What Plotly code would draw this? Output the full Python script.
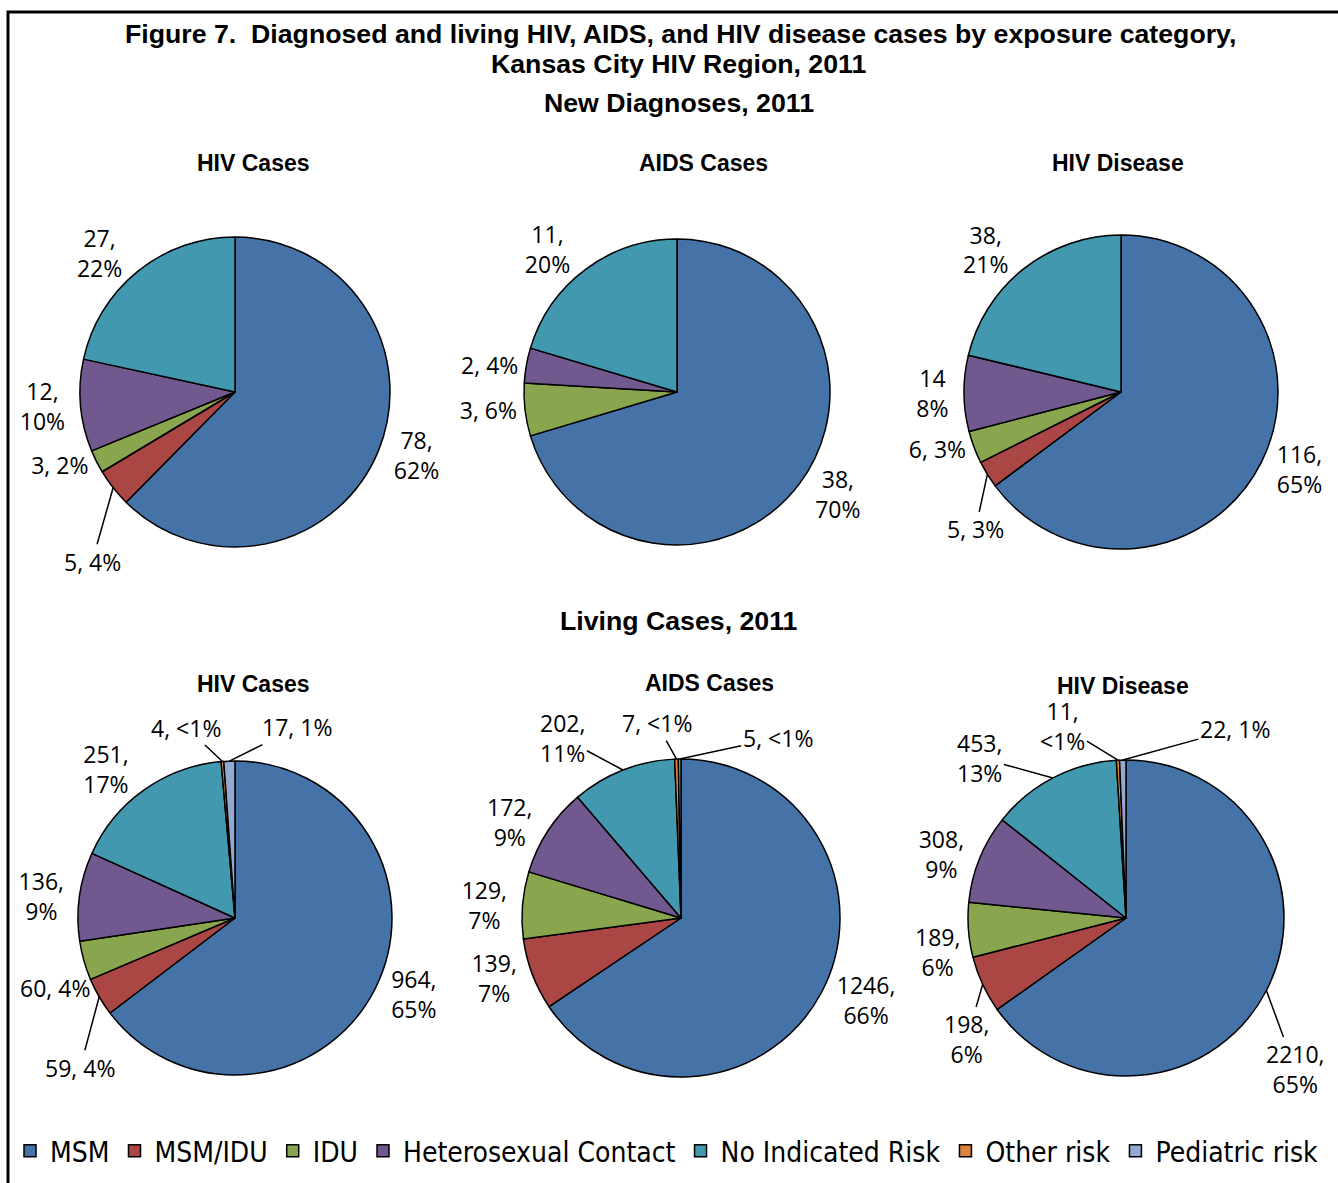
import math
import plotly.graph_objects as go

categories = ["MSM", "MSM/IDU", "IDU", "Heterosexual Contact", "No Indicated Risk",
              "Other risk", "Pediatric risk"]
colors = ["#4572A7", "#AA4643", "#89A54E", "#71588F", "#4198AF", "#DB843D", "#93A9CF"]

# New diagnoses, 2011
new_hiv = [78, 5, 3, 12, 27, 0, 0]
new_aids = [38, 0, 3, 2, 11, 0, 0]
new_disease = [116, 5, 6, 14, 38, 0, 0]
# Living cases, 2011
liv_hiv = [964, 59, 60, 136, 251, 4, 17]
liv_aids = [1246, 139, 129, 172, 202, 7, 5]
liv_disease = [2210, 198, 189, 308, 453, 11, 22]

# Data label texts as printed on the chart
txt_new_hiv = ["78,<br>62%", "5, 4%", "3, 2%", "12,<br>10%", "27,<br>22%", "", ""]
txt_new_aids = ["38,<br>70%", "", "3, 6%", "2, 4%", "11,<br>20%", "", ""]
txt_new_disease = ["116,<br>65%", "5, 3%", "6, 3%", "14<br>8%", "38,<br>21%", "", ""]
txt_liv_hiv = ["964,<br>65%", "59, 4%", "60, 4%", "136,<br>9%", "251,<br>17%", "4, <1%", "17, 1%"]
txt_liv_aids = ["1246,<br>66%", "139,<br>7%", "129,<br>7%", "172,<br>9%", "202,<br>11%", "7, <1%", "5, <1%"]
txt_liv_disease = ["2210,<br>65%", "198,<br>6%", "189,<br>6%", "308,<br>9%", "453,<br>13%", "11,<br><1%", "22, 1%"]

panel_titles = ["HIV Cases", "AIDS Cases", "HIV Disease"]

W, H = 1338, 1183
label_font = dict(family="Open Sans, Noto Sans, sans-serif", size=23, color="black")

# (values, texts, pie centre/radius in px,
#  call-out labels: slice index -> (label offset x px, offset y px, draw leader line))
panels = [
    (new_hiv, txt_new_hiv, (235, 392, 155), {1: (-21, 74, True)}),
    (new_aids, txt_new_aids, (677, 392, 153), {}),
    (new_disease, txt_new_disease, (1121, 392, 157), {1: (-12, 55, True)}),
    (liv_hiv, txt_liv_hiv, (235, 918, 157),
     {1: (-19, 71, True), 2: (-29, 27, False), 5: (-36, -34, True), 6: (68, -34, True)}),
    (liv_aids, txt_liv_aids, (681, 918, 159),
     {4: (-60, -32, True), 5: (-20, -36, True), 6: (98, -21, True)}),
    (liv_disease, txt_liv_disease, (1126, 918, 158),
     {0: (29, 79, True), 1: (-16, 55, True), 2: (-31, 22, False),
      4: (-73, -20, True), 5: (-55, -34, True), 6: (112, -31, True)}),
]

fig = go.Figure()
callouts = []
for vals, txts, (cx, cy, r), offs in panels:
    keep = [i for i, v in enumerate(vals) if v > 0]
    total = sum(vals)
    fig.add_trace(go.Pie(
        labels=[categories[i] for i in keep],
        values=[vals[i] for i in keep],
        text=[txts[i] for i in keep],
        marker=dict(colors=[colors[i] for i in keep], line=dict(color="black", width=1.5)),
        sort=False,
        direction="clockwise",
        rotation=0,
        textinfo="text",
        texttemplate="%{text}",
        hoverinfo="label+value+percent",
        textposition=["none" if i in offs else "outside" for i in keep],
        outsidetextfont=label_font,
        domain=dict(x=[(cx - r) / W, (cx + r) / W], y=[1 - (cy + r) / H, 1 - (cy - r) / H]),
        automargin=False,
    ))
    # call-out labels (with leader lines) anchored at the slice's mid-angle on the rim
    cum = 0
    for i, v in enumerate(vals):
        if i in offs:
            ang = 2 * math.pi * (cum + v / 2) / total
            px = cx + r * math.sin(ang)
            py = cy - r * math.cos(ang)
            ax, ay, line = offs[i]
            callouts.append(dict(text=txts[i], x=px / W, y=1 - py / H, xref="paper", yref="paper",
                                 showarrow=True, arrowhead=0, arrowwidth=1.5,
                                 arrowcolor="black" if line else "rgba(0,0,0,0)",
                                 ax=ax, ay=ay, standoff=0, font=label_font))
        cum += v

title_font = dict(family="Liberation Sans, Arial, sans-serif", size=26.7, color="black")
sub_font = dict(family="Liberation Sans, Arial, sans-serif", size=23, color="black")

annotations = [
    dict(text="<b>Figure 7.  Diagnosed and living HIV, AIDS, and HIV disease cases by exposure category,</b>",
         x=680 / W, y=1 - 34 / H, font=title_font),
    dict(text="<b>Kansas City HIV Region, 2011</b>", x=679 / W, y=1 - 64 / H, font=title_font),
    dict(text="<b>New Diagnoses, 2011</b>", x=679 / W, y=1 - 103 / H, font=title_font),
    dict(text="<b>Living Cases, 2011</b>", x=679 / W, y=1 - 621 / H, font=title_font),
]
sub_pos = [(253, 163), (703, 163), (1118, 163), (253, 684), (709, 683), (1123, 686)]
for k, (sx, sy) in enumerate(sub_pos):
    annotations.append(dict(text="<b>" + panel_titles[k % 3] + "</b>", x=sx / W, y=1 - sy / H, font=sub_font))
for a in annotations:
    a.update(xref="paper", yref="paper", showarrow=False, xanchor="center", yanchor="middle")

fig.update_layout(
    width=W, height=H,
    margin=dict(l=0, r=0, t=0, b=0),
    paper_bgcolor="white", plot_bgcolor="white",
    annotations=annotations + callouts,
    showlegend=True,
    legend=dict(orientation="h", x=10 / W, xanchor="left", y=1 - 1151 / H, yanchor="middle",
                font=dict(family="Liberation Sans Narrow, DejaVu Sans Condensed, Arial Narrow, sans-serif",
                          size=28, color="black"),
                itemclick=False, traceorder="normal"),
    shapes=[dict(type="rect", xref="paper", yref="paper", x0=8 / W, x1=1.05, y0=1 - 12 / H, y1=-0.05,
                 line=dict(color="black", width=3), fillcolor="rgba(0,0,0,0)", layer="above")],
)

fig.write_html("out.html")
